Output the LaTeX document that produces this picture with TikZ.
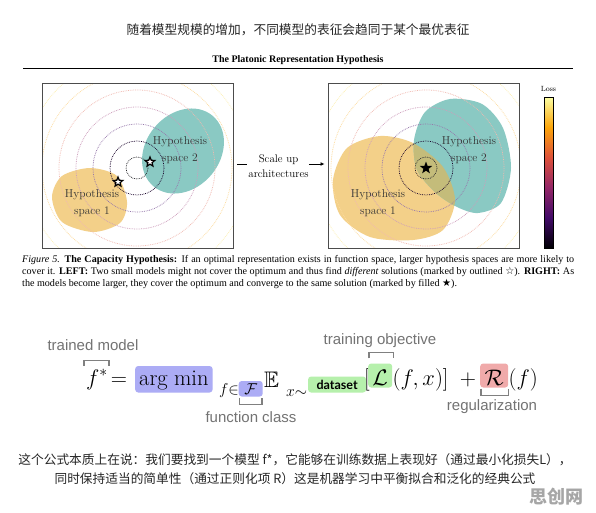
\RequirePackage{fix-cm}
\documentclass[tikz,border=0pt]{standalone}
\usepackage{amsmath,amssymb}
\usepackage{fontspec}
\usetikzlibrary{arrows.meta,shapes.geometric,positioning}
\newfontfamily\cjk{Noto Sans CJK SC}
\newfontfamily\timesf{Liberation Serif}
\newfontfamily\arialf{Liberation Sans}
\newfontfamily\latof{Lato}
\newfontfamily\symf{DejaVu Sans}
\definecolor{tealc}{RGB}{138,201,195}
\definecolor{sandc}{RGB}{243,208,137}
\definecolor{olivec}{RGB}{196,188,122}
\definecolor{lavbox}{RGB}{172,172,245}
\definecolor{dsbox}{RGB}{182,240,172}
\definecolor{regbox}{RGB}{240,170,170}
\definecolor{infA}{RGB}{0,0,4}
\definecolor{infB}{RGB}{66,10,104}
\definecolor{infC}{RGB}{147,38,103}
\definecolor{infD}{RGB}{221,81,58}
\definecolor{infE}{RGB}{252,165,10}
\definecolor{infF}{RGB}{252,255,164}
\pgfdeclareverticalshading{inferno}{100bp}{color(0bp)=(infA); color(25bp)=(infA); color(35bp)=(infB); color(45bp)=(infC); color(55bp)=(infD); color(65bp)=(infE); color(75bp)=(infF); color(100bp)=(infF)}
\newcommand\rsand{plot[smooth cycle] coordinates {(380,136) (413,143) (443,167) (455,200) (443,230) (413,240) (370,237) (340,215) (333,180) (347,148)}}
\newcommand\rteal{plot[smooth cycle] coordinates {(450,99) (482,104) (503,128) (511,168) (501,203) (478,213) (457,207) (436,193) (417,170) (414,140) (425,112)}}

\begin{document}
\begin{tikzpicture}[x=1pt,y=-1pt,
  panel/.style={minimum width=191pt,minimum height=165pt,inner sep=0pt,outer sep=0pt},
  frame/.style={draw=black!70,line width=0.8pt},
  ring/.style={draw=#1,densely dotted,line width=0.75pt},
  hyp/.style={font=\fontsize{11.5}{17}\selectfont,align=center,text=black!80},
  ostar/.style={star,star points=5,star point ratio=2.3,draw=black,fill=white,line width=1.2pt,minimum size=10pt,inner sep=0pt},
  solidstar/.style={star,star points=5,star point ratio=2.4,fill=black,minimum size=13pt,inner sep=0pt},
  mth/.style={font=\fontsize{22.5}{27}\selectfont,inner sep=0pt},
  hl/.style={fill=#1,rounded corners=3pt,inner xsep=3pt},
  brk/.style={draw=black!50,line width=1.3pt},
  lbl/.style={font=\arialf\fontsize{15}{18}\selectfont,text=black!55,inner sep=0pt},
  cn/.style={font=\cjk\fontsize{12.7}{16}\selectfont,text=black!85,inner sep=0pt},
  capline/.style={font=\timesf\fontsize{10.1}{12}\selectfont,anchor=base west,inner sep=0pt}]
\useasboundingbox[fill=white] (0,0) rectangle (596,512);

\node[cn] (title) at (298,30) {随着模型规模的增加，不同模型的表征会趋同于某个最优表征};
\node[font=\timesf\bfseries\fontsize{10}{12}\selectfont,inner sep=0pt] (paper) at (298,60) {The Platonic Representation Hypothesis};
\draw[line width=0.9pt] (23,68) -- (573,68);

\path node[panel] (lbox) at (137.5,165.5) {} node[panel] (rbox) at (424,165.5) {};
\coordinate (lopt) at (137,168);
\coordinate (ropt) at (426,168);

\begin{scope}
\clip (lbox.south west) rectangle (lbox.north east);
\fill[tealc,rotate around={50:(183,151)}] (183,151) ellipse[x radius=46,y radius=37];
\fill[sandc] plot[smooth cycle] coordinates {(90,168) (117,176) (127,202) (120,223) (93,232) (62,222) (52,197) (62,176)};
\foreach \r/\c in {11/infA!85,27/infA!60!infB,44/infB!55!white,61/infC!45!white,78/infD!40!white,95/infE!40!white,112/infE!30!infF!55!white,129/infF!60!infE!40!white}
  \draw[ring=\c] (lopt) circle[radius=\r];
\end{scope}
\draw[frame] (lbox.north west) rectangle (lbox.south east);

\begin{scope}
\clip (rbox.south west) rectangle (rbox.north east);
\fill[sandc] \rsand;
\fill[tealc] \rteal;
\begin{scope}
\clip \rsand;
\fill[olivec] \rteal;
\end{scope}
\foreach \r/\c in {11/infA!85,27/infA!60!infB,44/infB!55!white,61/infC!45!white,78/infD!40!white,95/infE!40!white,112/infE!30!infF!55!white,129/infF!60!infE!40!white}
  \draw[ring=\c] (ropt) circle[radius=\r];
\end{scope}
\draw[frame] (rbox.north west) rectangle (rbox.south east);

\node[hyp] (lh2) at (180,150.5) {Hypothesis\\space 2};
\node[hyp] (lh1) at (92,203) {Hypothesis\\space 1};
\node[hyp] (rh2) at (469,150.5) {Hypothesis\\space 2};
\node[hyp] (rh1) at (378,203) {Hypothesis\\space 1};
\node[ostar] (lsa) at (118,182) {};
\node[ostar] (lsb) at (150,162) {};
\node[solidstar] (rs) at (ropt) {};

\node[font=\fontsize{11}{15}\selectfont,align=center,inner sep=0pt] (scaleup) at (278.5,166.5) {Scale up\\architectures};
\draw[line width=0.9pt] ([xshift=4pt,yshift=2.5pt]lbox.east |- scaleup.west) -- ([xshift=-1pt,yshift=2.5pt]scaleup.west);
\draw[line width=0.9pt,-{Latex[length=4pt,width=4pt]}] ([yshift=2.5pt]scaleup.east) -- ([xshift=-4pt,yshift=2.5pt]rbox.west |- scaleup.east);

\node[draw=black,line width=0.4pt,shade,shading=inferno,minimum width=9pt,minimum height=151pt,inner sep=0pt] (cbar) at (548.5,172.5) {};
\node[font=\fontsize{7.5}{9}\selectfont,inner sep=0pt] (loss) at (548.5,89) {Loss};

\node[capline] (cap1) at (22,262) {\makebox[552pt][s]{\textit{Figure 5.} \textbf{The Capacity Hypothesis:} If an optimal representation exists in function space, larger hypothesis spaces are more likely to}};
\node[capline] (cap2) at (22,274) {\makebox[552pt][s]{cover it. \textbf{LEFT:} Two small models might not cover the optimum and thus find \textit{different} solutions (marked by outlined {\symf ☆}). \textbf{RIGHT:} As}};
\node[capline] (cap3) at (22,286) {the models become larger, they cover the optimum and converge to the same solution (marked by filled {\symf ★}).};

\node[mth,anchor=base west] (fopt) at (86,385) {$f^*$};
\node[mth,anchor=base] (eqs) at (119,385) {$=$};
\node[mth,hl=lavbox,anchor=base west,inner xsep=4pt,text height=16.5pt,text depth=5pt,inner ysep=2.5pt] (argmin) at (135,385) {$\mathrm{arg}\;\mathrm{min}$};
\node[mth,anchor=base west] (fin) at (219,394) {$\scriptstyle f\in$};
\node[mth,hl=lavbox,anchor=base west,minimum width=24pt,text height=11.5pt,text depth=1pt,inner ysep=1.5pt] (fcls) at (238.5,394) {$\scriptstyle\mathcal{F}$};
\node[mth,anchor=base west] (expc) at (264,387) {$\mathbb{E}$};
\node[mth,anchor=base west] (xsim) at (286,396) {$\scriptstyle x\sim$};
\node[hl=dsbox,anchor=base west,font=\latof\bfseries\fontsize{12.5}{14}\selectfont,minimum width=58pt,text height=9pt,text depth=0pt,inner ysep=3.5pt] (dset) at ([xshift=0.5pt]xsim.base east |- 0,389) {dataset};
\node[mth,anchor=base west] (lbr) at (364,385) {$[$};
\node[mth,hl=dsbox,anchor=base west,minimum width=24pt,text height=19pt,text depth=0pt,inner ysep=2.5pt] (lossL) at (368,385) {$\mathcal{L}$};
\node[mth,anchor=base west] (args) at (lossL.base east) {$(f,x)]$};
\node[mth,anchor=base] (plus) at (468,385) {$+$};
\node[mth,hl=regbox,anchor=base west,minimum width=28pt,text height=19pt,text depth=0pt,inner ysep=2.5pt] (regR) at (480,385) {$\mathcal{R}$};
\node[mth,anchor=base west] (rarg) at (regR.base east) {$(f)$};

\node[lbl] (tmodel) at (93,345) {trained model};
\node[lbl] (fclass) at (251,417) {function class};
\node[lbl] (tobj) at (380,341) {training objective};
\node[lbl] (rglz) at (492,407) {regularization};
\draw[brk] ([xshift=-2pt,yshift=3pt]fopt.north west) -- ++(0,-6) -| ([xshift=1pt,yshift=3pt]fopt.north east);
\draw[brk] ([xshift=1pt,yshift=-1pt]fcls.south west) -- ++(0,7) -| ([xshift=-1pt,yshift=-1pt]fcls.south east);
\draw[brk] ([xshift=1pt,yshift=5pt]lossL.north west) -- ++(0,-6) -| ([xshift=1pt,yshift=5pt]lossL.north east);
\draw[brk] ([xshift=1pt,yshift=-1pt]regR.south west) -- ++(0,7) -| ([yshift=-1pt]regR.south east);

\node[cn] (note1) at (295,460) {这个公式本质上在说：我们要找到一个模型 f*，它能够在训练数据上表现好（通过最小化损失L），};
\node[cn] (note2) at (295,479) {同时保持适当的简单性（通过正则化项 R）这是机器学习中平衡拟合和泛化的经典公式};
\node[font=\cjk\bfseries\fontsize{18}{20}\selectfont,text=black!35,inner sep=0pt] (wmark) at (556,497) {思创网};
\end{tikzpicture}
\end{document}
